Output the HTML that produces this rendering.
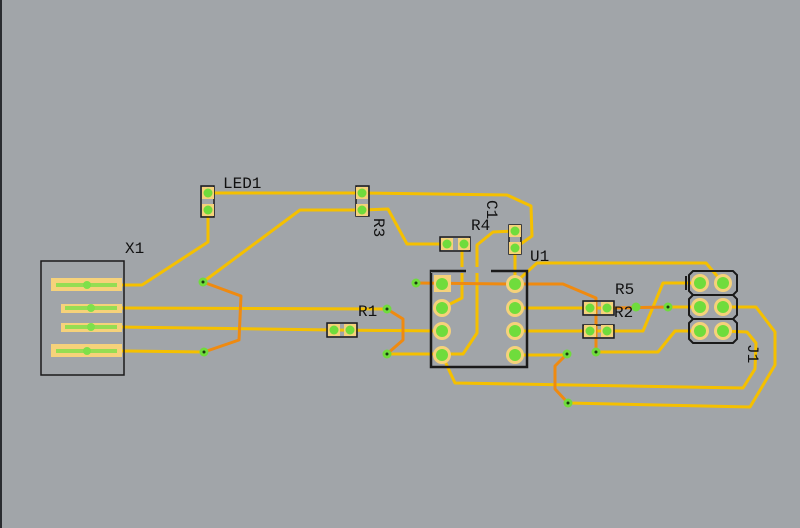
<!DOCTYPE html>
<html><head><style>
html,body{margin:0;padding:0;background:#a1a5a9;}
svg{display:block}
text{font-family:"Liberation Mono",monospace;font-size:16px;fill:#111;}
</style></head><body>
<svg width="800" height="528" viewBox="0 0 800 528" xmlns="http://www.w3.org/2000/svg">
<rect width="800" height="528" fill="#a1a5a9"/>
<rect x="0" y="0" width="2" height="528" fill="#2a2c30"/>
<g fill="none" stroke="#f5c000" stroke-width="3" stroke-linejoin="round">
<polyline points="122,285 142,285 208,242 208,210"/>
<polyline points="208,193 362,193 507,195 531,206 532,236 515,248"/>
<polyline points="362,210 300,210 203,282"/>
<polyline points="362,210 388,209 407,244 447,244"/>
<polyline points="122,351 204,352"/>
<polyline points="122,308 387,309"/>
<polyline points="122,327 334,330 442,331"/>
<polyline points="387,354 442,354"/>
<polyline points="442,308 462,298 462,244"/>
<polyline points="442,354 463,354 477,333 477,245 493,232 515,231"/>
<polyline points="515,248 515,283"/>
<polyline points="515,283 537,263 706,263 723,283"/>
<polyline points="515,308 607,308 613,308"/>
<polyline points="668,307 700,307"/>
<polyline points="515,331 643,331 663,283 700,283"/>
<polyline points="515,355 567,355"/>
<polyline points="568,403 750,407 775,365 775,332 756,307 723,307"/>
<polyline points="442,355 455,383 743,388 755,369 756,343 747,332 723,331"/>
<polyline points="596,352 658,352 675,331 700,331"/>
</g>
<g fill="none" stroke="#ef8a10" stroke-width="3" stroke-linejoin="round">
<polyline points="203,282 241,296 239,340 204,352"/>
<polyline points="387,309 403,319 403,340 387,354"/>
<polyline points="416,283 515,284 563,284 596,298 596,352"/>
<polyline points="613,308 668,307"/>
<polyline points="567,354 555,366 555,389 568,403"/>
</g>
<!-- X1 -->
<rect x="41" y="261" width="83" height="114" fill="none" stroke="#1a1a1a" stroke-width="1.5"/>
<g fill="#f6d27a"><rect x="51" y="278" width="71" height="13"/><rect x="61" y="304" width="61" height="9"/><rect x="61" y="323" width="61" height="9"/><rect x="51" y="344" width="71" height="13"/></g>
<g stroke="#7ee04a" stroke-width="4" opacity=".8"><line x1="56" y1="285" x2="117" y2="285"/><line x1="65" y1="308" x2="117" y2="308"/><line x1="65" y1="327" x2="117" y2="327"/><line x1="56" y1="351" x2="117" y2="351"/></g>
<g fill="#7ee04a"><circle cx="87" cy="285" r="4"/><circle cx="91" cy="308" r="4"/><circle cx="91" cy="327" r="4"/><circle cx="87" cy="351" r="4"/></g>
<!-- small components -->
<g fill="none" stroke="#1a1a1a" stroke-width="1.5">
<rect x="201" y="186" width="13" height="31"/><rect x="356" y="186" width="13" height="30"/>
<rect x="440" y="237" width="30" height="14"/><rect x="509" y="225" width="12" height="29"/>
<rect x="327" y="323" width="30" height="14"/><rect x="583" y="301" width="31" height="14"/><rect x="583" y="325" width="31" height="13"/>
<polyline points="431,271 466,271"/><polyline points="491,271 527,271"/>
<rect x="431" y="271" width="96" height="96" stroke-width="2.5" style="stroke-dasharray:none"/>
<path d="M693,271h40l4,4v16l-4,4h-40l-4,-4v-16z M693,295h40l4,4v16l-4,4h-40l-4,-4v-16z M693,319h40l4,4v16l-4,4h-40l-4,-4v-16z" stroke-width="2"/>
<line x1="686" y1="276" x2="686" y2="290" stroke-width="2"/>
</g>
<rect x="431" y="267" width="36" height="6" fill="#a1a5a9"/>
<line x1="431" y1="271" x2="466" y2="271" stroke="#1a1a1a" stroke-width="2.5"/>
<rect x="467" y="267" width="24" height="6" fill="#a1a5a9"/>
<g fill="#f6d27a">
<rect x="202" y="187" width="12" height="12"/><rect x="202" y="204" width="12" height="12"/>
<rect x="356" y="187" width="12" height="12"/><rect x="356" y="204" width="12" height="12"/>
<rect x="441" y="238" width="12" height="12"/><rect x="458" y="238" width="12" height="12"/>
<rect x="509" y="225" width="12" height="12"/><rect x="509" y="242" width="12" height="12"/>
<rect x="328" y="324" width="12" height="12"/><rect x="344" y="324" width="12" height="12"/>
<rect x="584" y="302" width="12" height="12"/><rect x="601" y="302" width="12" height="12"/>
<rect x="584" y="325" width="12" height="12"/><rect x="601" y="325" width="12" height="12"/>
<rect x="434" y="275" width="17" height="17"/>
<circle cx="442" cy="308" r="9"/><circle cx="442" cy="331" r="9"/><circle cx="442" cy="355" r="9"/>
<circle cx="515" cy="284" r="9"/><circle cx="515" cy="308" r="9"/><circle cx="515" cy="331" r="9"/><circle cx="515" cy="355" r="9"/>
<circle cx="700" cy="283" r="9"/><circle cx="723" cy="283" r="9"/><circle cx="700" cy="307" r="9"/><circle cx="723" cy="307" r="9"/><circle cx="700" cy="331" r="9"/><circle cx="723" cy="331" r="9"/>
</g>
<g fill="#6fdc3c">
<circle cx="208" cy="193" r="4.5"/><circle cx="208" cy="210" r="4.5"/><circle cx="362" cy="193" r="4.5"/><circle cx="362" cy="210" r="4.5"/>
<circle cx="447" cy="244" r="4.5"/><circle cx="464" cy="244" r="4.5"/><circle cx="515" cy="231" r="4.5"/><circle cx="515" cy="248" r="4.5"/>
<circle cx="334" cy="330" r="4.5"/><circle cx="350" cy="330" r="4.5"/><circle cx="590" cy="308" r="4.5"/><circle cx="607" cy="308" r="4.5"/>
<circle cx="590" cy="331" r="4.5"/><circle cx="607" cy="331" r="4.5"/>
<circle cx="442" cy="284" r="6"/><circle cx="442" cy="308" r="6"/><circle cx="442" cy="331" r="6"/><circle cx="442" cy="355" r="6"/>
<circle cx="515" cy="284" r="6"/><circle cx="515" cy="308" r="6"/><circle cx="515" cy="331" r="6"/><circle cx="515" cy="355" r="6"/>
<circle cx="700" cy="283" r="6"/><circle cx="723" cy="283" r="6"/><circle cx="700" cy="307" r="6"/><circle cx="723" cy="307" r="6"/><circle cx="700" cy="331" r="6"/><circle cx="723" cy="331" r="6"/>
<circle cx="203" cy="282" r="4.5"/><circle cx="204" cy="352" r="4.5"/><circle cx="387" cy="309" r="4.5"/><circle cx="387" cy="354" r="4.5"/>
<circle cx="416" cy="283" r="4.5"/><circle cx="596" cy="352" r="4.5"/><circle cx="636" cy="307" r="4.5"/><circle cx="668" cy="307" r="4.5"/>
<circle cx="567" cy="354" r="4.5"/><circle cx="568" cy="403" r="4.5"/>
</g>
<g fill="#1a3a10">
<circle cx="203" cy="282" r="1.5"/><circle cx="204" cy="352" r="1.5"/><circle cx="387" cy="309" r="1.5"/><circle cx="387" cy="354" r="1.5"/>
<circle cx="416" cy="283" r="1.5"/><circle cx="596" cy="352" r="1.5"/><circle cx="668" cy="307" r="1.5"/>
<circle cx="567" cy="354" r="1.5"/><circle cx="568" cy="403" r="1.5"/>
</g>
<text x="223" y="188">LED1</text>
<text x="125" y="253">X1</text>
<text x="358" y="316">R1</text>
<text x="471" y="230">R4</text>
<text x="530" y="261">U1</text>
<text x="615" y="294">R5</text>
<text x="614" y="317">R2</text>
<text transform="translate(374,218) rotate(90)">R3</text>
<text transform="translate(487,200) rotate(90)">C1</text>
<text transform="translate(748,344) rotate(90)">J1</text>
</svg>
</body></html>
